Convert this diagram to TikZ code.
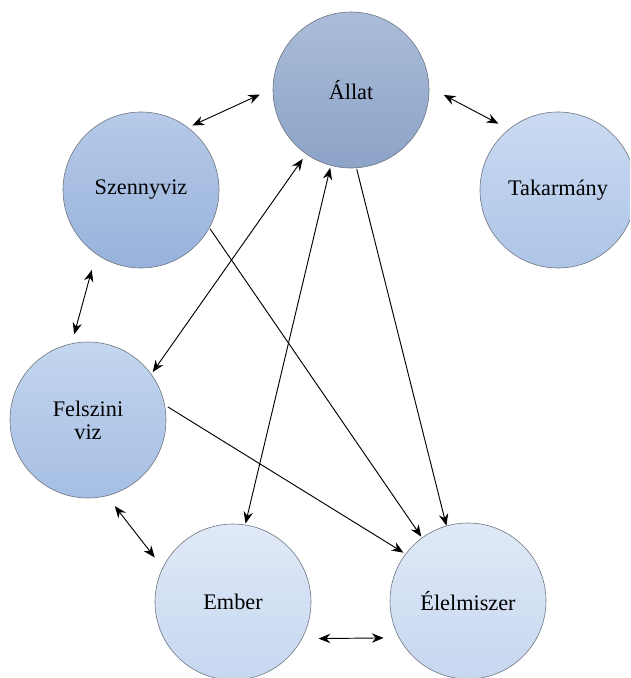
\documentclass[tikz,border=0pt]{standalone}
\usepackage{fontspec}
\setmainfont{Liberation Serif}
\usepackage{xcolor}
\definecolor{Allat-top}{HTML}{AABCD8}
\definecolor{Allat-bot}{HTML}{8CA4C8}
\definecolor{Szenny-top}{HTML}{B6CAE8}
\definecolor{Szenny-bot}{HTML}{97B2DB}
\definecolor{Tak-top}{HTML}{CADAF1}
\definecolor{Tak-bot}{HTML}{AEC5E8}
\definecolor{Felsz-top}{HTML}{C4D6EF}
\definecolor{Felsz-bot}{HTML}{A5BEE3}
\definecolor{Light-top}{HTML}{E0E9F7}
\definecolor{Light-bot}{HTML}{C6D7F0}
\definecolor{Rim}{HTML}{6E7480}
\usetikzlibrary{arrows.meta,shapes,calc}

\begin{document}
\begin{tikzpicture} [ % styles first
            x=0.03cm, y=-0.03cm,
            line width=0.8pt, >={Stealth[length=10pt,width=8pt]},
            font=\fontsize{19}{19.5}\selectfont,
            ball/.style = {circle, minimum size=4.68cm, inner sep=0pt, align=center,
                           draw=Rim, line width=0.5pt, shading=axis, shading angle=0},
            ball-dark/.style = {ball, top color=Allat-top, bottom color=Allat-bot},
            ball-mid/.style = {ball, top color=Szenny-top, bottom color=Szenny-bot},
            ball-tak/.style = {ball, top color=Tak-top, bottom color=Tak-bot},
            ball-felsz/.style = {ball, top color=Felsz-top, bottom color=Felsz-bot},
            ball-light/.style = {ball, top color=Light-top, bottom color=Light-bot}
        ]

        \clip (0,0) rectangle (630,678);
        \fill [white] (0,0) rectangle (630,678);

        % top row
        \node [ball-dark] (allat) at (351,90) {Állat};
        \node [ball-mid] (szenny) at (141,190) {Szennyviz};
        \node [ball-tak] (tak) at (558,190) {Takarmány};

        % left
        \node [ball-felsz] (felsz) at (88,420) {Felszini\\viz};

        % bottom row
        \node [ball-light] (ember) at (233,602) {Ember};
        \node [ball-light] (elel) at (468,601) {Élelmiszer};

        % short arrows between neighbours
        \draw [<->, shorten <=4pt, shorten >=12pt] (szenny.53) -- (allat.179);
        \draw [<->, shorten <=14pt, shorten >=10pt] (allat.2) -- (tak.129);
        \draw [<->, shorten <=14pt, shorten >=8pt] (szenny.235) -- (felsz.102);
        \draw [<->, shorten <=11pt, shorten >=11pt] (felsz.284) -- (ember.154);
        \draw [<->, shorten <=14pt, shorten >=13pt] (ember.332) -- (elel.208);

        % long arrows
        \draw [<->, shorten <=2pt, shorten >=5pt] (felsz.36) -- (allat.235);
        \draw [<->, shorten <=1pt, shorten >=2pt] (ember.81) -- (allat.255);
        \draw [->, shorten <=1pt] (allat.274) -- (elel.106);
        \draw [->, shorten <=1pt, shorten >=1pt] (szenny.331) -- (elel.126);
        \draw [->, shorten <=3pt, shorten >=2pt] (felsz.11) -- (elel.143);

    \end{tikzpicture}
\end{document}
